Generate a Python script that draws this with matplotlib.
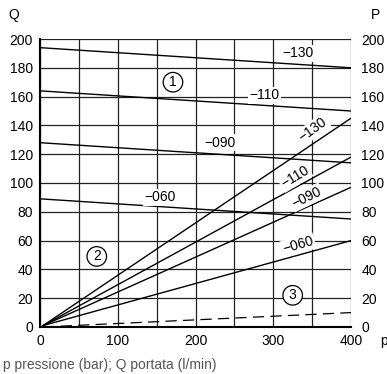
import numpy as np
import matplotlib.pyplot as plt

plt.rcParams['font.family'] = ['Liberation Sans', 'DejaVu Sans']

# pressure range (bar)
p_ends = [0, 400]

# pressure-drop lines (Q at p=0 and p=400), by size
sizes = ['−130', '−110', '−090', '−060']
q_top_start = [194, 164, 128, 89]
q_top_end = [180, 150, 114, 75]

# rising lines from origin (Q at p=400)
rise_start = [4, 1]
q_rise_end = [145, 118, 97, 60]
dashed_end = [0, 10]

# label positions (p, Q)
top_label_pos = [(332, 190), (289, 161), (231, 128), (154, 90)]
rise_label_pos = [(351, 137), (328, 104), (343, 90), (332, 57)]
rise_label_rot = [36, 31, 26, 16]
zones = ['1', '2', '3']
zone_pos = [(171, 170), (73, 49), (325, 22)]

fs = 10

fig = plt.figure(figsize=(3.87, 3.74), dpi=100)
ax = fig.add_axes([0.1034, 0.1257, 0.8036, 0.77])

ax.set_xlim(0, 400)
ax.set_ylim(0, 200)
ax.set_xticks(range(0, 401, 50))
ax.set_yticks(range(0, 201, 20))
ax.grid(True, color='#222222', lw=0.9)
ax.tick_params(length=0, labelsize=fs, pad=5)
ax.set_xticklabels(['0', '', '100', '', '200', '', '300', '', '400'])
for s in ['top', 'right']:
    ax.spines[s].set_visible(False)
ax.spines['left'].set_linewidth(1.5)
ax.spines['bottom'].set_linewidth(1.5)

# right axis
ax2 = ax.twinx()
ax2.set_ylim(0, 200)
ax2.set_yticks(range(0, 201, 20))
ax2.tick_params(length=0, labelsize=fs, pad=7.5)
for s in ['top', 'right', 'left', 'bottom']:
    ax2.spines[s].set_visible(False)

bbox = dict(facecolor='white', edgecolor='none', pad=1)

for i, lab in enumerate(sizes):
    ax.plot(p_ends, [q_top_start[i], q_top_end[i]], color='black', lw=1.0, zorder=3)
    ax.plot([rise_start[0], 400], [rise_start[1], q_rise_end[i]], color='black', lw=1.0, zorder=3)
    ax.text(*top_label_pos[i], lab, ha='center', va='center', fontsize=fs,
            bbox=bbox, zorder=4)
    ax.text(*rise_label_pos[i], lab, ha='center', va='center', fontsize=fs,
            rotation=rise_label_rot[i], bbox=bbox, zorder=4)

ax.plot([rise_start[0], 400], dashed_end, color='black', lw=0.9, ls=(0, (9, 5)), zorder=3)

for z, pos in zip(zones, zone_pos):
    ax.text(*pos, z, ha='center', va='center', fontsize=fs, zorder=4,
            bbox=dict(boxstyle='circle,pad=0.2', facecolor='white', edgecolor='black', lw=0.9))

fig.text(8 / 387, 1 - 15 / 374, 'Q', ha='left', va='center', fontsize=fs)
fig.text(371 / 387, 1 - 15 / 374, 'P', ha='left', va='center', fontsize=fs)
fig.text(380 / 387, 1 - 341 / 374, 'p', ha='left', va='center', fontsize=fs)
fig.text(3 / 387, 1 - 365 / 374, 'p pressione (bar); Q portata (l/min)', ha='left', va='center',
         fontsize=fs, color='#555555')

fig.savefig('out.png', dpi=100)
